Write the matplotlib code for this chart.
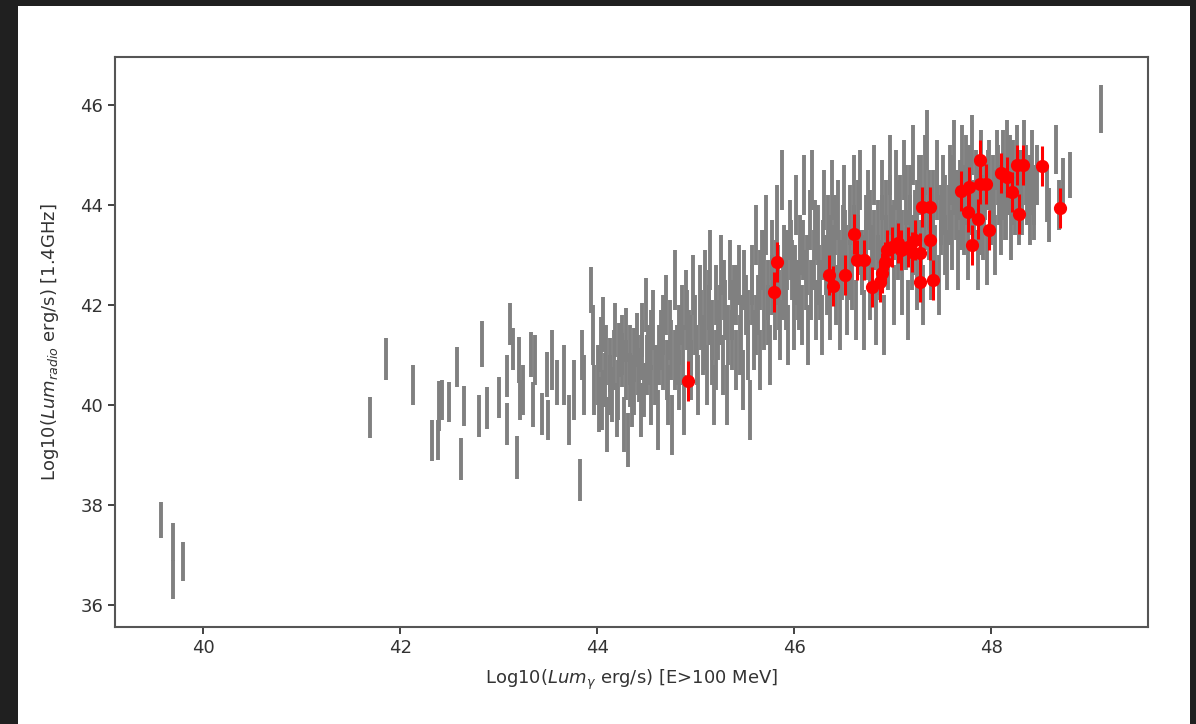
import matplotlib.pyplot as plt
from matplotlib.patches import Rectangle

# Grey sample: log gamma luminosity, log radio luminosity, error
gx = [39.57, 39.70, 39.70, 39.80, 41.69, 41.86, 42.13, 42.32, 42.38, 42.40, 42.43, 42.50, 42.58, 42.62, 42.65,
      42.80, 42.83, 42.88, 43.00, 43.08, 43.09, 43.12, 43.15, 43.19, 43.21, 43.22, 43.25, 43.33, 43.35, 43.37,
      43.44, 43.49, 43.50, 43.54, 43.59, 43.66, 43.71, 43.76, 43.83, 43.85, 43.87, 43.94, 43.96, 43.97,
      # 44.0 - 44.5
      44.02, 44.04, 44.06, 44.08, 44.10, 44.13, 44.15, 44.18, 44.20, 44.22, 44.25, 44.27, 44.29, 44.31, 44.33,
      44.35, 44.37, 44.40, 44.42, 44.44, 44.46, 44.48, 44.50,
      # 44.5 - 45.05
      44.52, 44.55, 44.57, 44.60, 44.62, 44.65, 44.67, 44.70, 44.72, 44.74, 44.76, 44.79, 44.81, 44.83, 44.86,
      44.88, 44.90, 44.93, 44.95, 44.97, 44.99, 45.02, 45.04,
      # 45.05 - 45.55
      45.07, 45.09, 45.11, 45.13, 45.15, 45.17, 45.19, 45.21, 45.23, 45.26, 45.28, 45.30, 45.32, 45.35, 45.37,
      45.39, 45.41, 45.44, 45.46, 45.48, 45.51, 45.53, 45.55,
      # 45.55 - 46.05
      45.57, 45.59, 45.61, 45.63, 45.65, 45.67, 45.69, 45.71, 45.73, 45.75, 45.77, 45.80, 45.82, 45.84, 45.86,
      45.88, 45.90, 45.92, 45.94, 45.96, 45.98, 46.00, 46.02, 46.04,
      # 46.05 - 46.56
      46.06, 46.08, 46.10, 46.12, 46.14, 46.16, 46.18, 46.20, 46.22, 46.24, 46.26, 46.28, 46.30, 46.32, 46.34,
      46.36, 46.38, 46.40, 46.42, 46.44, 46.46, 46.48, 46.50, 46.52, 46.54,
      # 46.56 - 47.06
      46.57, 46.59, 46.61, 46.63, 46.65, 46.67, 46.69, 46.71, 46.73, 46.75, 46.77, 46.79, 46.81, 46.83, 46.85,
      46.87, 46.89, 46.91, 46.93, 46.95, 46.97, 46.99, 47.01, 47.03, 47.05,
      # 47.06 - 47.57
      47.07, 47.09, 47.11, 47.13, 47.15, 47.17, 47.19, 47.21, 47.23, 47.25, 47.27, 47.29, 47.31, 47.33, 47.35,
      47.37, 47.39, 47.41, 47.43, 47.45, 47.47, 47.49, 47.51, 47.53, 47.55,
      # 47.57 - 48.07
      47.58, 47.60, 47.62, 47.64, 47.66, 47.68, 47.70, 47.72, 47.74, 47.76, 47.78, 47.80, 47.82, 47.84, 47.86,
      47.88, 47.90, 47.92, 47.94, 47.96, 47.98, 48.00, 48.02, 48.04, 48.06,
      # 48.07 - 48.85
      48.08, 48.10, 48.12, 48.14, 48.16, 48.18, 48.20, 48.22, 48.24, 48.26, 48.28, 48.30, 48.33, 48.36, 48.39,
      48.41, 48.43, 48.46, 48.56, 48.59, 48.66, 48.69, 48.73, 48.80,
      49.11]
gy = [37.70, 37.26, 36.50, 36.86, 39.74, 40.92, 40.40, 39.28, 39.30, 39.97, 40.10, 40.06, 40.76, 38.92, 39.98,
      39.78, 41.22, 39.94, 40.14, 39.62, 40.58, 41.62, 41.12, 38.94, 40.90, 40.10, 40.30, 41.00, 40.00, 40.90,
      39.82, 40.60, 39.70, 40.90, 40.45, 40.60, 39.70, 40.30, 38.50, 41.00, 40.40, 42.30, 41.40, 40.30,
      40.00, 41.20, 41.60, 40.50, 39.60, 40.80, 40.20, 41.50, 39.90, 41.10, 40.90, 39.60, 41.40, 39.30, 40.50,
      40.10, 41.00, 41.30, 40.60, 39.90, 41.50, 40.30, 42.00,
      41.00, 40.20, 41.70, 40.60, 39.70, 41.30, 40.90, 42.00, 40.20, 41.50, 39.60, 42.50, 41.00, 40.50, 41.80,
      40.00, 42.10, 41.30, 40.70, 42.40, 41.60, 40.40, 42.20,
      41.20, 42.50, 40.60, 41.80, 42.90, 41.00, 40.20, 42.20, 41.50, 42.80, 40.80, 41.90, 40.20, 42.70, 41.30,
      42.20, 40.90, 42.60, 41.60, 40.50, 42.00, 41.10, 39.90,
      42.60, 41.30, 43.40, 42.00, 40.90, 42.90, 41.70, 43.60, 42.30, 41.00, 43.10, 41.90, 43.80, 42.60, 41.50,
      44.50, 43.00, 42.10, 41.40, 43.50, 42.70, 41.70, 44.00, 42.30,
      43.20, 41.80, 44.40, 42.50, 41.40, 43.70, 44.50, 42.90, 41.90, 43.40, 42.30, 41.60, 44.10, 42.80, 43.60,
      41.90, 44.30, 43.00, 42.20, 43.90, 41.70, 42.70, 44.20, 43.30, 42.00,
      43.80, 42.50, 44.40, 41.90, 43.20, 44.50, 42.80, 41.70, 43.60, 44.10, 42.30, 43.00, 44.60, 41.80, 43.50,
      42.70, 44.30, 41.60, 43.90, 42.90, 44.80, 43.40, 42.20, 44.50, 43.10,
      44.00, 42.40, 44.70, 43.30, 41.90, 44.20, 42.90, 45.00, 43.70, 42.50, 44.40, 43.10, 42.20, 44.80, 45.30,
      43.50, 42.70, 44.10, 43.00, 44.70, 42.40, 43.80, 44.40, 43.20, 42.90,
      44.60, 43.30, 45.10, 43.90, 42.90, 44.30, 45.00, 43.60, 44.80, 43.10, 44.00, 45.20, 43.70, 44.50, 42.90,
      44.10, 44.90, 43.50, 44.30, 43.00, 44.70, 43.80, 44.40, 43.20, 44.90,
      44.20, 43.60, 44.90, 43.90, 45.10, 44.40, 43.50, 44.70, 44.00, 45.00, 43.80, 44.50, 45.10, 44.20, 43.80,
      44.90, 43.90, 44.60, 44.20, 43.80, 45.11, 44.00, 44.47, 44.60,
      45.92]
ge = [0.36, 0.38, 0.39, 0.39, 0.41, 0.42, 0.40, 0.41, 0.40, 0.50, 0.40, 0.40, 0.41, 0.42, 0.41,
      0.42, 0.45, 0.42, 0.41, 0.42, 0.42, 0.42, 0.42, 0.43, 0.45, 0.40, 0.50, 0.45, 0.45, 0.50,
      0.42, 0.45, 0.40, 0.60, 0.45, 0.60, 0.50, 0.60, 0.42, 0.50, 0.60, 0.45, 0.60, 0.50] + \
     [0.55] * 23 + [0.60] * 23 + [0.60] * 23 + [0.60] * 24 + [0.60] * 25 + [0.60] * 25 + \
     [0.60] * 25 + [0.60] * 25 + [0.60] * 18 + [0.55, 0.55, 0.49, 0.50, 0.47, 0.46] + [0.48]

# Grey sample, core of the band (overlapping bars)
gx2 = [44.01, 44.05, 44.09, 44.13, 44.17, 44.21, 44.25, 44.29, 44.33, 44.37, 44.41, 44.45,
       44.51, 44.55, 44.59, 44.63, 44.67, 44.71, 44.75, 44.79, 44.83, 44.87, 44.91, 44.95,
       45.01, 45.05, 45.09, 45.13, 45.17, 45.21, 45.25, 45.29, 45.33, 45.37, 45.41, 45.45, 45.49,
       45.53, 45.57, 45.61, 45.65, 45.69, 45.73, 45.77, 45.81, 45.85, 45.89, 45.93, 45.97,
       46.01, 46.05, 46.09, 46.13, 46.17, 46.21, 46.25, 46.29, 46.33, 46.37, 46.41, 46.45, 46.49,
       46.53, 46.57, 46.61, 46.65, 46.69, 46.73, 46.77, 46.81, 46.85, 46.89, 46.93, 46.97,
       47.01, 47.05, 47.09, 47.13, 47.17, 47.21, 47.25, 47.29, 47.33, 47.37, 47.41, 47.45, 47.49,
       47.53, 47.57, 47.61, 47.65, 47.69, 47.73, 47.77, 47.81, 47.85, 47.89, 47.93, 47.97,
       48.03, 48.07, 48.11, 48.15, 48.19, 48.23, 48.27, 48.31, 48.35, 48.39, 48.43]
gy2 = [40.6, 40.1, 41.0, 40.4, 40.9, 40.3, 41.2, 40.7, 41.0, 40.4, 40.8, 41.1,
       40.8, 41.3, 40.6, 41.0, 41.6, 40.7, 41.1, 40.9, 41.4, 41.0, 41.7, 41.2,
       41.0, 41.7, 41.3, 42.1, 41.5, 40.9, 41.8, 42.3, 41.4, 41.9, 42.2, 41.2, 42.5,
       41.7, 42.2, 41.6, 42.5, 42.9, 41.8, 42.4, 42.7, 42.1, 42.3, 42.9, 43.1,
       42.6, 42.1, 43.1, 42.8, 42.3, 43.5, 42.6, 43.1, 42.4, 43.2, 43.6, 42.9, 43.4,
       43.0, 42.7, 43.4, 43.9, 42.9, 43.1, 43.7, 43.3, 42.8, 43.6, 43.2, 44.0,
       43.5, 43.9, 43.3, 44.2, 43.6, 43.2, 43.9, 44.4, 43.7, 44.1, 43.4, 44.3, 43.6,
       44.0, 43.8, 44.4, 44.1, 43.7, 44.2, 44.6, 43.9, 44.3, 43.6, 44.0, 44.5,
       44.1, 44.6, 44.3, 43.9, 44.8, 44.2, 44.5, 44.0, 44.6, 44.4, 44.2]
ge2 = [0.60] * len(gx2)

# Red sample
rx = [44.92, 45.79, 45.83, 46.35, 46.39, 46.52, 46.61, 46.64, 46.71, 46.79, 46.87, 46.89, 46.92, 46.94, 46.99,
      47.05, 47.08, 47.15, 47.20, 47.23, 47.28, 47.28, 47.30, 47.38, 47.38, 47.41, 47.69, 47.77, 47.76, 47.80,
      47.86, 47.89, 47.89, 47.95, 47.98, 48.10, 48.16, 48.21, 48.26, 48.28, 48.32, 48.51, 48.70]
ry = [40.47, 42.26, 42.86, 42.60, 42.38, 42.60, 43.42, 42.90, 42.90, 42.36, 42.46, 42.64, 42.86, 43.10, 43.16,
      43.24, 43.10, 43.16, 43.06, 43.30, 43.04, 42.46, 43.96, 43.96, 43.30, 42.50, 44.28, 44.36, 43.86, 43.20,
      43.72, 44.90, 44.42, 44.42, 43.50, 44.64, 44.56, 44.26, 44.80, 43.82, 44.80, 44.78, 43.94]
re = [0.40] * len(rx)

fig = plt.figure(figsize=(11.96, 7.24), dpi=100, facecolor='#202020')
fig.patches.append(Rectangle((18 / 1196, 0), 1172 / 1196, 718 / 724, transform=fig.transFigure,
                             facecolor='white', edgecolor='none', zorder=-5))
ax = fig.add_axes([115 / 1196, 1 - 627 / 724, 1033 / 1196, 570 / 724])
ax.set_zorder(5)

ax.errorbar(gx + gx2, gy + gy2, yerr=ge + ge2, fmt='none', ecolor='grey', elinewidth=2.8)
ax.errorbar(rx, ry, yerr=re, fmt='o', color='red', ecolor='red', elinewidth=2.2, markersize=8.5)

ax.set_xlim(39.107, 49.59)
ax.set_ylim(35.56, 46.96)
ax.set_xticks([40, 42, 44, 46, 48])
ax.set_yticks([36, 38, 40, 42, 44, 46])
ax.tick_params(labelsize=13, colors='#333333', width=1.3, length=5)
for s in ax.spines.values():
    s.set_color('#555555')
    s.set_linewidth(1.5)

ax.set_xlabel(r'Log10($Lum_{\gamma}$ erg/s) [E>100 MeV]', fontsize=13, color='#333333', labelpad=8)
ax.set_ylabel(r'Log10($Lum_{radio}$ erg/s) [1.4GHz]', fontsize=13, color='#333333', labelpad=14)

plt.savefig('out.png', dpi=100, facecolor=fig.get_facecolor())
